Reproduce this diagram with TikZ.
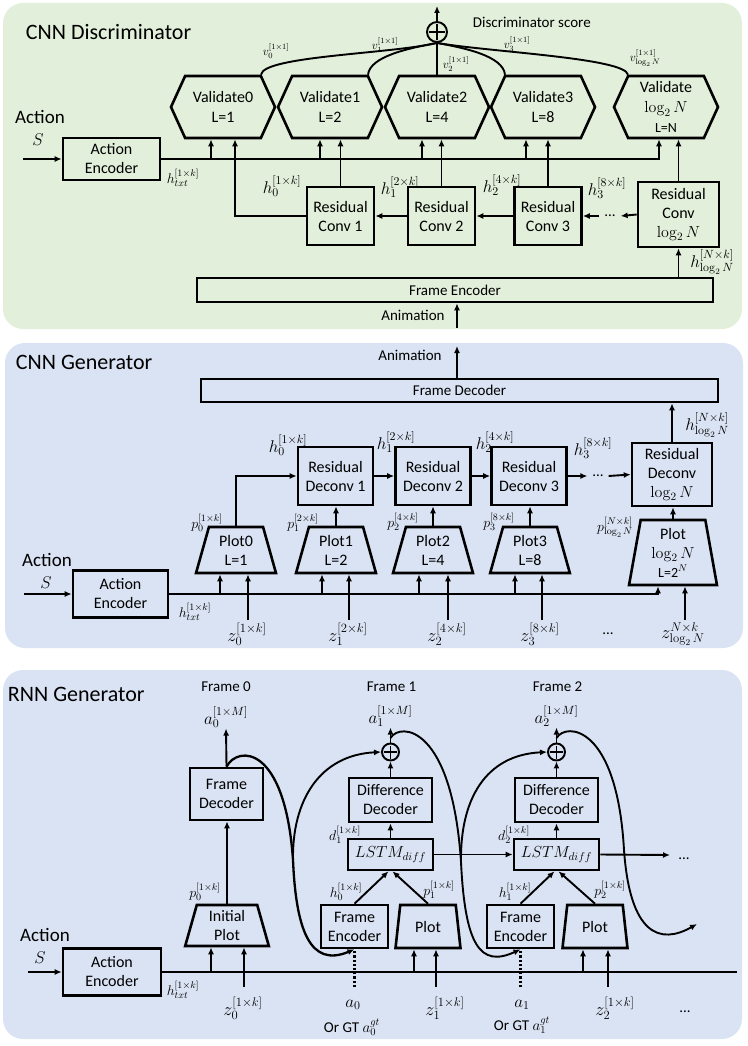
\RequirePackage{fix-cm}
\documentclass[tikz,border=0pt]{standalone}
\usepackage[no-math]{fontspec}
\setmainfont{Carlito}
\usetikzlibrary{arrows.meta,shapes.geometric,shapes.symbols}

\definecolor{discbg}{RGB}{226,239,218}
\definecolor{genbg}{RGB}{218,227,243}

\begin{document}
\begin{tikzpicture}[x=1pt,y=-1pt,
  >={Latex[length=7pt,width=6pt]},
  line width=1.9pt,
  box/.style={draw, line width=2.6pt, align=center, inner sep=0pt,
    font=\fontsize{16}{19}\selectfont},
  plotbox/.style={trapezium, trapezium stretches=true, draw, line width=2.6pt,
    align=center, inner sep=0pt, font=\fontsize{16}{19}\selectfont},
  validate/.style={signal, signal to=east and west, signal pointer angle=131,
    draw, line width=2.6pt, minimum width=104, minimum height=62,
    align=center, inner sep=0pt, font=\fontsize{16}{20}\selectfont},
  sumnode/.style={circle, draw, line width=1.9pt, minimum size=#1, inner sep=0pt,
    path picture={\draw[line width=1.6pt]
      ([yshift=-2pt]path picture bounding box.north) -- ([yshift=2pt]path picture bounding box.south)
      ([xshift=2pt]path picture bounding box.west) -- ([xshift=-2pt]path picture bounding box.east);}},
  title/.style={font=\fontsize{22}{22}\selectfont, inner sep=0pt, anchor=west},
  txt/.style={font=\fontsize{15}{15}\selectfont, inner sep=0pt},
  actlbl/.style={font=\fontsize{19}{19}\selectfont, inner sep=0pt},
  hlbl/.style={font=\fontsize{17}{17}\selectfont, inner sep=0pt},
  zlbl/.style={font=\fontsize{18}{18}\selectfont, inner sep=0pt},
  smalllbl/.style={font=\fontsize{14}{14}\selectfont, inner sep=0pt},
  vlbl/.style={font=\fontsize{12}{12}\selectfont, inner sep=0pt},
  dots/.style={font=\fontsize{15}{15}\selectfont, inner sep=4pt},
]
\useasboundingbox (0,0) rectangle (747,1046);

% ---------------- CNN Discriminator ----------------
\fill[discbg, rounded corners=20pt] (3,3) rectangle (742,329);
\node[title] (discTitle) at (25,32) {CNN Discriminator};

% Validate blocks
\foreach \i/\x/\L in {0/223/1, 1/330/2, 2/437/4, 3/543/8}
  \node[validate] (val\i) at (\x,107) {Validate\i\\L=\L};
\node[validate] (valLog) at (666,107) {Validate\\$\log_2 N$\\{\fontsize{14}{14}\selectfont L=N}};

% Score
\node[sumnode=20] (sumD) at (437,32) {};
\coordinate (scoreTip) at (437,6);
\draw[->] (sumD.north) -- (scoreTip);
\node[txt, anchor=west] (scoreLbl) at (472,22) {Discriminator score};
\draw ([xshift=38pt]val0.north) .. controls (263,56) and (390,54) .. (sumD.south);
\draw ([xshift=38pt]val1.north) .. controls (370,56) and (410,48) .. (sumD.south);
\draw (val2.north) -- (sumD.south);
\draw ([xshift=-38pt]val3.north) .. controls (503,56) and (465,48) .. (sumD.south);
\draw ([xshift=-38pt]valLog.north) .. controls (625,58) and (490,52) .. (sumD.south);
\node[vlbl] (v0) at (276,51) {$v_0^{[1\times1]}$};
\node[vlbl] (v1) at (385,45) {$v_1^{[1\times1]}$};
\node[vlbl] (v2) at (456,64) {$v_2^{[1\times1]}$};
\node[vlbl] (v3) at (517,44) {$v_3^{[1\times1]}$};
\node[vlbl] (vLog) at (645,58) {$v_{\log_2 N}^{[1\times1]}$};

% Action encoder
\node[box, minimum width=97, minimum height=42] (actEncD) at (111.5,159) {Action\\Encoder};
\node[actlbl] (actLblD) at (40,117) {Action};
\node[hlbl] (sD) at (38,140) {$S$};
\coordinate (sInD) at (23,159);
\draw[->] (sInD) -- (actEncD.west);
\node[smalllbl] (htxtD) at (183,178) {$h_{txt}^{[1\times k]}$};
\draw[->] (actEncD.east) -| (valLog.south -| 659,0);
\foreach \x/\v in {211/val0, 320/val1, 422/val2, 526/val3}
  \draw[->] (actEncD.east -| \x,0) -- (\v.south -| \x,0);

% Residual conv chain
\foreach \i/\x in {1/340.5, 2/441.5, 3/548}
  \node[box, minimum width=67, minimum height=58] (conv\i) at (\x,216) {Residual\\Conv \i};
\node[box, minimum width=81, minimum height=65] (convLog) at (678.5,214.5) {Residual\\Conv\\$\log_2 N$};
\draw[->] (conv1.west) -| ([xshift=12pt]val0.south);
\foreach \i in {1,2,3}
  \draw[->] (conv\i.north) -- (conv\i.north |- val\i.south);
\draw[->] (convLog.north) -- (convLog.north |- valLog.south);
\draw[->] (conv2.west) -- (conv1.east);
\draw[->] (conv3.west) -- (conv2.east);
\node[dots] (dotsD) at (610,216) {...};
\draw[->] (dotsD.west) -- (conv3.east);
\draw[->] (convLog.west) -- (dotsD.east);
\node[hlbl] (hD0) at (282,186) {$h_0^{[1\times k]}$};
\node[hlbl] (hD1) at (400,187) {$h_1^{[2\times k]}$};
\node[hlbl] (hD2) at (502,185) {$h_2^{[4\times k]}$};
\node[hlbl] (hD3) at (607,188) {$h_3^{[8\times k]}$};
\node[hlbl] (hDLog) at (712,262) {$h_{\log_2 N}^{[N\times k]}$};

% Frame encoder
\node[box, minimum width=516, minimum height=24, font=\fontsize{15}{15}\selectfont] (frameEnc) at (455,290) {Frame Encoder};
\draw[->] (frameEnc.north -| convLog.south) -- (convLog.south);
\node[txt] (animIn) at (413,315) {Animation};
\coordinate (animTail) at (457,328);
\draw[->] (animTail) -- (animTail |- frameEnc.south);

% ---------------- CNN Generator ----------------
\fill[genbg, rounded corners=20pt] (5,343) rectangle (743,648);
\node[title] (genTitle) at (15,362) {CNN Generator};
\node[box, minimum width=517, minimum height=23, font=\fontsize{15}{15}\selectfont] (frameDec) at (459.5,390.5) {Frame Decoder};
\node[txt] (animOut) at (410,355) {Animation};
\coordinate (animTip) at (457,346);
\draw[->] (frameDec.north -| animTip) -- (animTip);

% Residual deconv chain
\foreach \i/\x in {1/335.5, 2/433, 3/529}
  \node[box, minimum width=75, minimum height=58] (deconv\i) at (\x,476) {Residual\\Deconv \i};
\node[box, minimum width=80, minimum height=63] (deconvLog) at (672,474.5) {Residual\\Deconv\\$\log_2 N$};
\draw[->] (deconv1.east) -- (deconv2.west);
\draw[->] (deconv2.east) -- (deconv3.west);
\node[dots] (dotsG) at (598,476) {...};
\draw[->] (deconv3.east) -- (dotsG.west);
\draw[->] (dotsG.east) -- (deconvLog.west);
\draw[->] (deconvLog.north) -- (deconvLog.north |- frameDec.south);
\node[hlbl] (hG0) at (288,445) {$h_0^{[1\times k]}$};
\node[hlbl] (hG1) at (396,442) {$h_1^{[2\times k]}$};
\node[hlbl] (hG2) at (495,442) {$h_2^{[4\times k]}$};
\node[hlbl] (hG3) at (593,448) {$h_3^{[8\times k]}$};
\node[hlbl] (hGLog) at (707,425) {$h_{\log_2 N}^{[N\times k]}$};

% Plot blocks
\foreach \i/\x/\L in {0/236/1, 1/336/2, 2/433/4, 3/530/8}
  \node[plotbox, minimum width=80, minimum height=46, trapezium angle=75] (plot\i) at (\x,550) {Plot\i\\L=\L};
\node[plotbox, minimum width=88, minimum height=65, trapezium angle=81] (plotLog) at (673,552.5) {Plot\\$\log_2 N$\\{\fontsize{14}{15}\selectfont L=2$^N$}};
\draw[->] (plot0.north) |- (deconv1.west);
\foreach \i in {1,2,3}
  \draw[->] (plot\i.north) -- (plot\i.north |- deconv\i.south);
\draw[->] (plotLog.north) -- (plotLog.north |- deconvLog.south);
\node[smalllbl] (pG0) at (207,523) {$p_0^{[1\times k]}$};
\node[smalllbl] (pG1) at (303,523) {$p_1^{[2\times k]}$};
\node[smalllbl] (pG2) at (403,522) {$p_2^{[4\times k]}$};
\node[smalllbl] (pG3) at (499,522) {$p_3^{[8\times k]}$};
\node[smalllbl] (pGLog) at (615,527) {$p_{\log_2 N}^{[N\times k]}$};

% Action encoder and noise inputs
\node[box, minimum width=95, minimum height=47] (actEncG) at (120.5,594) {Action\\Encoder};
\node[actlbl] (actLblG) at (47,560) {Action};
\node[hlbl] (sG) at (46,583) {$S$};
\coordinate (sInG) at (24,594);
\draw[->] (sInG) -- (actEncG.west);
\node[smalllbl] (htxtG) at (195,612) {$h_{txt}^{[1\times k]}$};
\draw[->] (actEncG.east) -| (plotLog.south -| 658,0);
\foreach \x/\p in {220/plot0, 322/plot1, 419/plot2, 515/plot3}
  \draw[->] (actEncG.east -| \x,0) -- (\p.south -| \x,0);
\foreach \i/\x/\lx/\s in {0/248/247/1, 1/349/348/2, 2/448/447/4, 3/542/540/8} {
  \node[zlbl] (zG\i) at (\lx,634) {$z_\i^{[\s\times k]}$};
  \coordinate (zTail\i) at (\x,620);
  \draw[->] (zTail\i) -- (zTail\i |- plot\i.south);
}
\node[zlbl] (zGLog) at (683,634) {$z_{\log_2 N}^{N\times k}$};
\coordinate (zTailLog) at (685,620);
\draw[->] (zTailLog) -- (zTailLog |- plotLog.south);
\node[dots] (dotsZ) at (608,634) {...};

% ---------------- RNN Generator ----------------
\fill[genbg, rounded corners=20pt] (3,670) rectangle (742,1039);
\node[title] (rnnTitle) at (7,694) {RNN Generator};

% Frame 0
\node[box, minimum width=73, minimum height=52] (fDec0) at (226.5,794) {Frame\\Decoder};
\node[plotbox, minimum width=84, minimum height=41, trapezium angle=77] (initPlot) at (227,925.5) {Initial\\Plot};
\draw[->] (initPlot.north) -- (initPlot.north |- fDec0.south);
\node[txt] (frame0) at (226,687) {Frame 0};
\node[hlbl] (aOut0) at (226,717) {$a_0^{[1\times M]}$};
\draw[->] (fDec0.north) -- (aOut0.south);
\node[smalllbl] (pR0) at (205,892) {$p_0^{[1\times k]}$};

% Frames 1 and 2
\foreach \i/\x in {1/390.5, 2/556.5} {
  \node[box, minimum width=85, minimum height=31] (lstm\i) at (\x,854.5) {$LSTM_{diff}$};
  \node[box, minimum width=83, minimum height=44] (dDec\i) at (\x,800) {Difference\\Decoder};
  \node[sumnode=17] (sum\i) at (\x,752) {};
  \node[txt] (frame\i) at (\x+1,687) {Frame \i};
  \node[hlbl] (aOut\i) at (\x,716) {$a_\i^{[1\times M]}$};
  \draw[->] (lstm\i.north) -- (dDec\i.south);
  \draw[->] (dDec\i.north) -- (sum\i.south);
  \draw[->] (sum\i.north) -- (aOut\i.south);
}
\node[box, minimum width=67, minimum height=43] (fEnc1) at (354.5,926.5) {Frame\\Encoder};
\node[box, minimum width=67, minimum height=43] (fEnc2) at (520.5,926.5) {Frame\\Encoder};
\node[plotbox, minimum width=65, minimum height=43, trapezium angle=79] (plotR1) at (428,926.5) {Plot};
\node[plotbox, minimum width=65, minimum height=43, trapezium angle=79] (plotR2) at (595,926.5) {Plot};
\foreach \i in {1,2} {
  \draw[->] (fEnc\i.north) -- ([xshift=-2pt]lstm\i.south);
  \draw[->] (plotR\i.north) -- ([xshift=2pt]lstm\i.south);
}
\draw[->] (lstm1.east) -- (lstm2.west);
\coordinate (lstmOut) at (670,855);
\draw[->] (lstm2.east) -- (lstmOut);
\node[dots] (dotsL) at (684,859) {...};
\node[smalllbl] (dR1) at (345,835) {$d_1^{[1\times k]}$};
\node[smalllbl] (dR2) at (514,835) {$d_2^{[1\times k]}$};
\node[smalllbl] (hR0) at (346,892) {$h_0^{[1\times k]}$};
\node[smalllbl] (pR1) at (439,890) {$p_1^{[1\times k]}$};
\node[smalllbl] (hR1) at (515,892) {$h_1^{[1\times k]}$};
\node[smalllbl] (pR2) at (610,890) {$p_2^{[1\times k]}$};

% Action encoder and inputs
\node[box, minimum width=98, minimum height=47] (actEncR) at (112,972) {Action\\Encoder};
\node[actlbl] (actLblR) at (45,935) {Action};
\node[hlbl] (sR) at (40,958) {$S$};
\coordinate (sInR) at (28,972);
\draw[->] (sInR) -- (actEncR.west);
\node[smalllbl] (htxtR) at (183,990) {$h_{txt}^{[1\times k]}$};
\coordinate (txtEndR) at (737,972);
\draw (actEncR.east) -- (txtEndR);
\foreach \x/\p in {211/initPlot, 414/plotR1, 583/plotR2}
  \draw[->] (actEncR.east -| \x,0) -- (\p.south -| \x,0);
\foreach \i/\x/\lx/\p in {0/244/243/initPlot, 1/436/445/plotR1, 2/608/615/plotR2} {
  \coordinate (zTailR\i) at (\x,987);
  \draw[->] (zTailR\i) -- (zTailR\i |- \p.south);
  \node[zlbl] (zR\i) at (\lx,1008) {$z_\i^{[1\times k]}$};
}
\node[dots] (dotsR) at (685,1012) {...};
\coordinate (aTail0) at (354.5,987);
\coordinate (aTail1) at (520.5,987);
\draw[dotted, line width=2.2pt] (aTail0) -- (fEnc1.south);
\draw[dotted, line width=2.2pt] (aTail1) -- (fEnc2.south);
\node[hlbl] (aIn0) at (353,1005) {$a_0$};
\node[txt] (gt0) at (352,1027) {Or GT $a_0^{gt}$};
\node[hlbl] (aIn1) at (522,1005) {$a_1$};
\node[txt] (gt1) at (522,1025) {Or GT $a_1^{gt}$};

% Recurrent feedback curves
\draw[->, line width=2.3pt] (fDec0.north) .. controls (238,745) and (285,745) .. (293,860) coordinate (split0)
  .. controls (296,930) and (310,968) .. (fEnc1.south);
\draw[->] (split0) .. controls (292,800) and (320,755) .. (sum1.west);
\coordinate (a1tap) at (390.5,738);
\draw[->] (a1tap) .. controls (400,722) and (452,725) .. (461,862) coordinate (split1)
  .. controls (465,945) and (480,968) .. (fEnc2.south);
\draw[->] (split1) .. controls (460,800) and (485,755) .. (sum2.west);
\coordinate (a2tap) at (556.5,738);
\coordinate (loopEnd) at (697,924);
\draw[->] (a2tap) .. controls (566,722) and (617,725) .. (624,850)
  .. controls (630,935) and (660,945) .. (loopEnd);
\end{tikzpicture}
\end{document}
